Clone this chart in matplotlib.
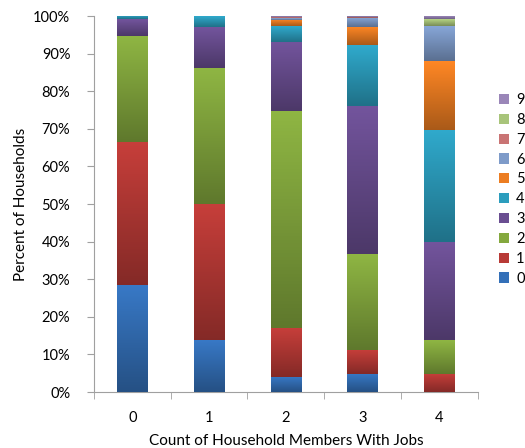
import numpy as np
import matplotlib
matplotlib.use("Agg")
import matplotlib.pyplot as plt
from matplotlib.colors import to_rgb, LinearSegmentedColormap

plt.rcParams['font.family'] = ['Lato', 'DejaVu Sans']

# Donnees (% des menages)
categories = ['0', '1', '2', '3', '4']
series_names = ['0', '1', '2', '3', '4', '5', '6', '7', '8', '9']
values = {
    '0': [28.5, 13.9, 4.0, 4.9, 0.0],
    '1': [38.1, 36.2, 13.1, 6.4, 4.9],
    '2': [28.1, 36.1, 57.6, 25.5, 9.0],
    '3': [4.5, 10.9, 18.5, 39.3, 26.0],
    '4': [0.8, 2.9, 4.2, 16.2, 29.9],
    '5': [0.0, 0.0, 1.7, 4.8, 18.2],
    '6': [0.0, 0.0, 0.5, 2.4, 9.4],
    '7': [0.0, 0.0, 0.1, 0.3, 0.0],
    '8': [0.0, 0.0, 0.1, 0.0, 1.8],
    '9': [0.0, 0.0, 0.2, 0.2, 0.8],
}
colors = ['#3470B8', '#B83A36', '#84A83E', '#6A4E91', '#2C9DBD',
          '#EC7D22', '#7E9BC9', '#C97474', '#A8C47A', '#9A86B8']

fig = plt.figure(figsize=(5.25, 4.48), dpi=100)
ax = fig.add_axes([0.179, 0.125, 0.731, 0.839])

x = np.arange(len(categories))
bottom = np.zeros(len(categories))
handles = []
for name, col in zip(series_names, colors):
    v = np.array(values[name]) / 100.0
    bars = ax.bar(x, v, 0.4, bottom=bottom, color=col, label=name,
                  linewidth=0, zorder=2)
    handles.append(bars)
    # degrade vertical, plus sombre en bas
    c = np.array(to_rgb(col))
    cmap = LinearSegmentedColormap.from_list(
        'g', [np.clip(c * 0.72, 0, 1), np.clip(c * 1.08, 0, 1)])
    grad = np.linspace(0, 1, 64).reshape(-1, 1)
    for p in bars.patches:
        if p.get_height() <= 0:
            continue
        x0, y0 = p.get_x(), p.get_y()
        im = ax.imshow(grad, cmap=cmap, origin='lower', aspect='auto',
                       extent=[x0, x0 + p.get_width(), y0, y0 + p.get_height()],
                       zorder=3)
        im.set_clip_path(p)
    bottom += v

ax.set_xlim(-0.5, 4.5)
ax.set_ylim(0, 1)
ax.set_yticks(np.arange(0, 1.01, 0.1))
ax.set_yticklabels([f'{int(round(t * 100))}%' for t in np.arange(0, 1.01, 0.1)])
ax.set_xticks(x)
ax.set_xticklabels(categories)
ax.set_xticks(np.arange(-0.5, 4.6, 1), minor=True)
ax.tick_params(axis='x', which='major', length=0, pad=14, labelsize=10.5)
ax.tick_params(axis='x', which='minor', length=5, color='#A0A0A0', direction='out')
ax.tick_params(axis='y', length=5, color='#A0A0A0', labelsize=10.5, pad=12)

for s in ['top', 'right']:
    ax.spines[s].set_visible(False)
for s in ['left', 'bottom']:
    ax.spines[s].set_color('#A0A0A0')

ax.set_ylabel('Percent of Households', fontsize=11, labelpad=4)
ax.set_xlabel('Count of Household Members With Jobs', fontsize=11, labelpad=6)

leg = ax.legend(handles[::-1], series_names[::-1], loc='upper left',
                bbox_to_anchor=(1.02, 0.83), frameon=False, fontsize=10.5,
                handlelength=0.7, handleheight=0.7, handletextpad=0.5,
                labelspacing=0.4)

fig.savefig('out.png', dpi=100)
